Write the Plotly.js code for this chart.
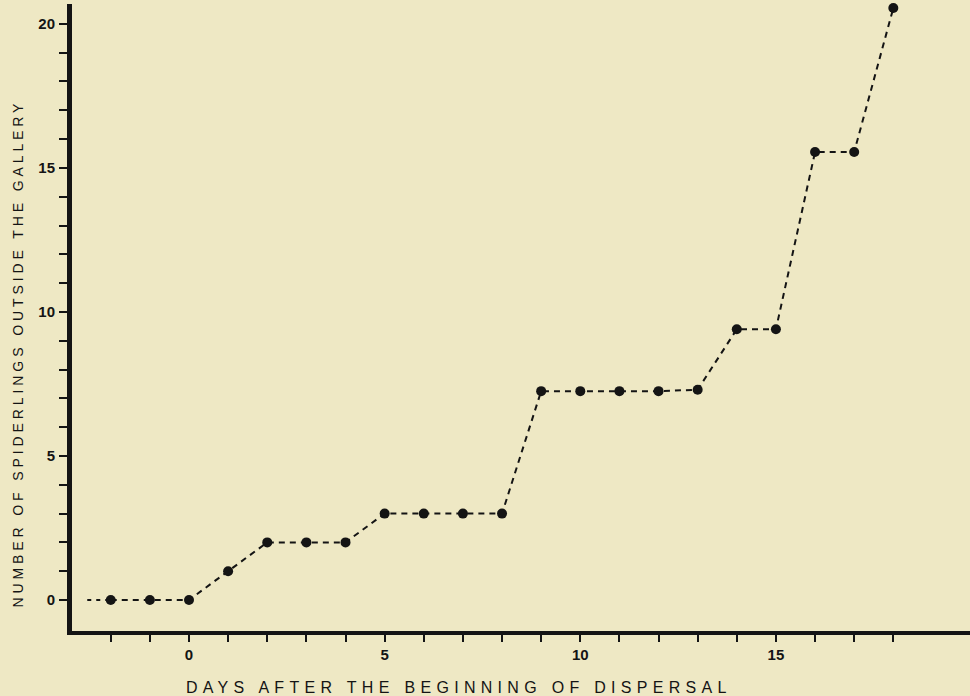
<!DOCTYPE html>
<html>
<head>
<meta charset="utf-8">
<script src="https://cdn.plot.ly/plotly-3.0.1.min.js"></script>
<style>
html,body{margin:0;padding:0;background:#eee8c4;}
#chart{width:970px;height:696px;}
</style>
</head>
<body>
<div id="chart"></div>
<script>
// Data
const days = [-2, -1, 0, 1, 2, 3, 4, 5, 6, 7, 8, 9, 10, 11, 12, 13, 14, 15, 16, 17, 18];
const spiderlings = [0, 0, 0, 1, 2, 2, 2, 3, 3, 3, 3, 7.25, 7.25, 7.25, 7.25, 7.3, 9.4, 9.4, 15.55, 15.55, 20.55];
const leadX = [-2.6, -2];
const leadY = [0, 0];
const xTickVals = [0, 5, 10, 15];
const xMinorVals = [-2, -1, 0, 1, 2, 3, 4, 5, 6, 7, 8, 9, 10, 11, 12, 13, 14, 15, 16, 17, 18];
const yTickVals = [0, 5, 10, 15, 20];
const yMinorVals = [0, 1, 2, 3, 4, 5, 6, 7, 8, 9, 10, 11, 12, 13, 14, 15, 16, 17, 18, 19, 20];
const xTitle = 'DAYS AFTER THE BEGINNING OF DISPERSAL';
const yTitle = 'NUMBER OF SPIDERLINGS OUTSIDE THE GALLERY';

const ink = '#141414';
const bg = '#eee8c4';
const fam = 'Liberation Sans, Arial, sans-serif';

const traces = [
  {
    x: leadX, y: leadY, mode: 'lines', hoverinfo: 'skip',
    line: {color: ink, width: 2, dash: '4px,5px'}, cliponaxis: false, showlegend: false
  },
  {
    x: days, y: spiderlings, mode: 'lines+markers',
    line: {color: ink, width: 2, dash: '6px,5px'},
    marker: {color: ink, size: 10},
    cliponaxis: false, showlegend: false
  }
];

const layout = {
  width: 970, height: 696,
  margin: {l: 72, r: 0, t: 4, b: 65},
  paper_bgcolor: bg, plot_bgcolor: bg,
  font: {family: fam, color: ink},
  showlegend: false,
  xaxis: {
    range: [-2.99, 19.96],
    showgrid: false, zeroline: false,
    showline: true, linecolor: ink, linewidth: 4,
    tickmode: 'array', tickvals: xTickVals,
    ticks: 'outside', ticklen: 7, tickwidth: 2, tickcolor: ink,
    ticklabelstandoff: 0,
    tickfont: {size: 15, color: ink, family: fam, weight: 'bold'},
    minor: {tickmode: 'array', tickvals: xMinorVals, ticks: 'outside', ticklen: 7, tickwidth: 2, tickcolor: ink, showgrid: false}
  },
  yaxis: {
    range: [-1.076, 20.69],
    showgrid: false, zeroline: false,
    showline: true, linecolor: ink, linewidth: 5,
    tickmode: 'array', tickvals: yTickVals,
    ticks: 'outside', ticklen: 8, tickwidth: 2, tickcolor: ink,
    ticklabelstandoff: 1,
    tickfont: {size: 15, color: ink, family: fam, weight: 'bold'},
    minor: {tickmode: 'array', tickvals: yMinorVals, ticks: 'outside', ticklen: 8, tickwidth: 2, tickcolor: ink, showgrid: false}
  },
  annotations: [
    {
      text: xTitle, xref: 'paper', yref: 'paper',
      x: 0.431, y: -0.0909, xanchor: 'center', yanchor: 'middle',
      showarrow: false, font: {size: 16, color: ink, family: fam}
    },
    {
      text: yTitle, xref: 'paper', yref: 'paper',
      x: -0.060, y: 0.4426, xanchor: 'center', yanchor: 'middle',
      textangle: -90, showarrow: false, font: {size: 14, color: ink, family: fam}
    }
  ]
};

Plotly.newPlot('chart', traces, layout, {displayModeBar: false, staticPlot: true}).then(function () {
  const texts = document.querySelectorAll('.annotation-text');
  if (texts[0]) texts[0].style.letterSpacing = '5.3px';
  if (texts[1]) texts[1].style.letterSpacing = '3.9px';
});
</script>
</body>
</html>
